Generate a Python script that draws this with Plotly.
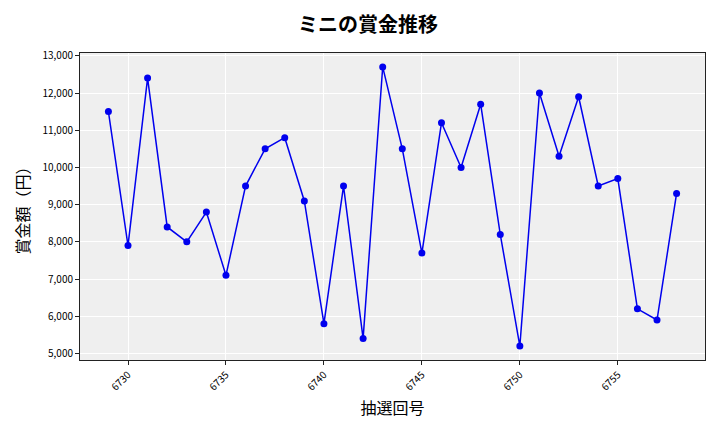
import plotly.graph_objs as go

draws = list(range(6729, 6759))
prizes = [11500, 7900, 12400, 8400, 8000, 8800, 7100, 9500, 10500, 10800,
          9100, 5800, 9500, 5400, 12700, 10500, 7700, 11200, 10000, 11700,
          8200, 5200, 12000, 10300, 11900, 9500, 9700, 6200, 5900, 9300]
x_ticks = [6730, 6735, 6740, 6745, 6750, 6755]
y_ticks = [5000, 6000, 7000, 8000, 9000, 10000, 11000, 12000, 13000]

font = 'Noto Sans CJK JP'

trace = go.Scatter(x=draws, y=prizes, mode='lines+markers',
                   line={'color': '#0000ee', 'width': 1.5},
                   marker={'color': '#0000ee', 'size': 7})

# the page puts the figure 8px in from the corner, margins make up for it
layout = go.Layout(
    title={'text': '<b>ミニの賞金推移</b>', 'x': 0.5, 'xanchor': 'center',
           'y': 0.96, 'yanchor': 'middle', 'font': {'size': 20, 'color': 'black'}},
    font={'family': font, 'color': 'black'},
    width=720, height=432,
    margin={'l': 72, 'r': 23, 't': 45, 'b': 80},
    paper_bgcolor='white', plot_bgcolor='#efefef',
    showlegend=False,
    xaxis={'range': [6727.55, 6759.45], 'tickvals': x_ticks, 'tickangle': -45,
           'tickfont': {'size': 10}, 'gridcolor': 'white', 'zeroline': False,
           'showline': True, 'linecolor': '#222', 'mirror': True,
           'ticks': 'outside', 'ticklen': 4, 'tickcolor': '#222',
           'title': {'text': '抽選回号', 'font': {'size': 16}, 'standoff': 10}},
    yaxis={'range': [4825, 13075], 'tickvals': y_ticks, 'tickformat': ',d',
           'tickfont': {'size': 10}, 'gridcolor': 'white', 'zeroline': False,
           'showline': True, 'linecolor': '#222', 'mirror': True,
           'ticks': 'outside', 'ticklen': 4, 'tickcolor': '#222',
           'title': {'text': '賞金額（円）', 'font': {'size': 16}, 'standoff': 8}},
)

fig = go.Figure(data=[trace], layout=layout)
fig.write_html('out.html')
